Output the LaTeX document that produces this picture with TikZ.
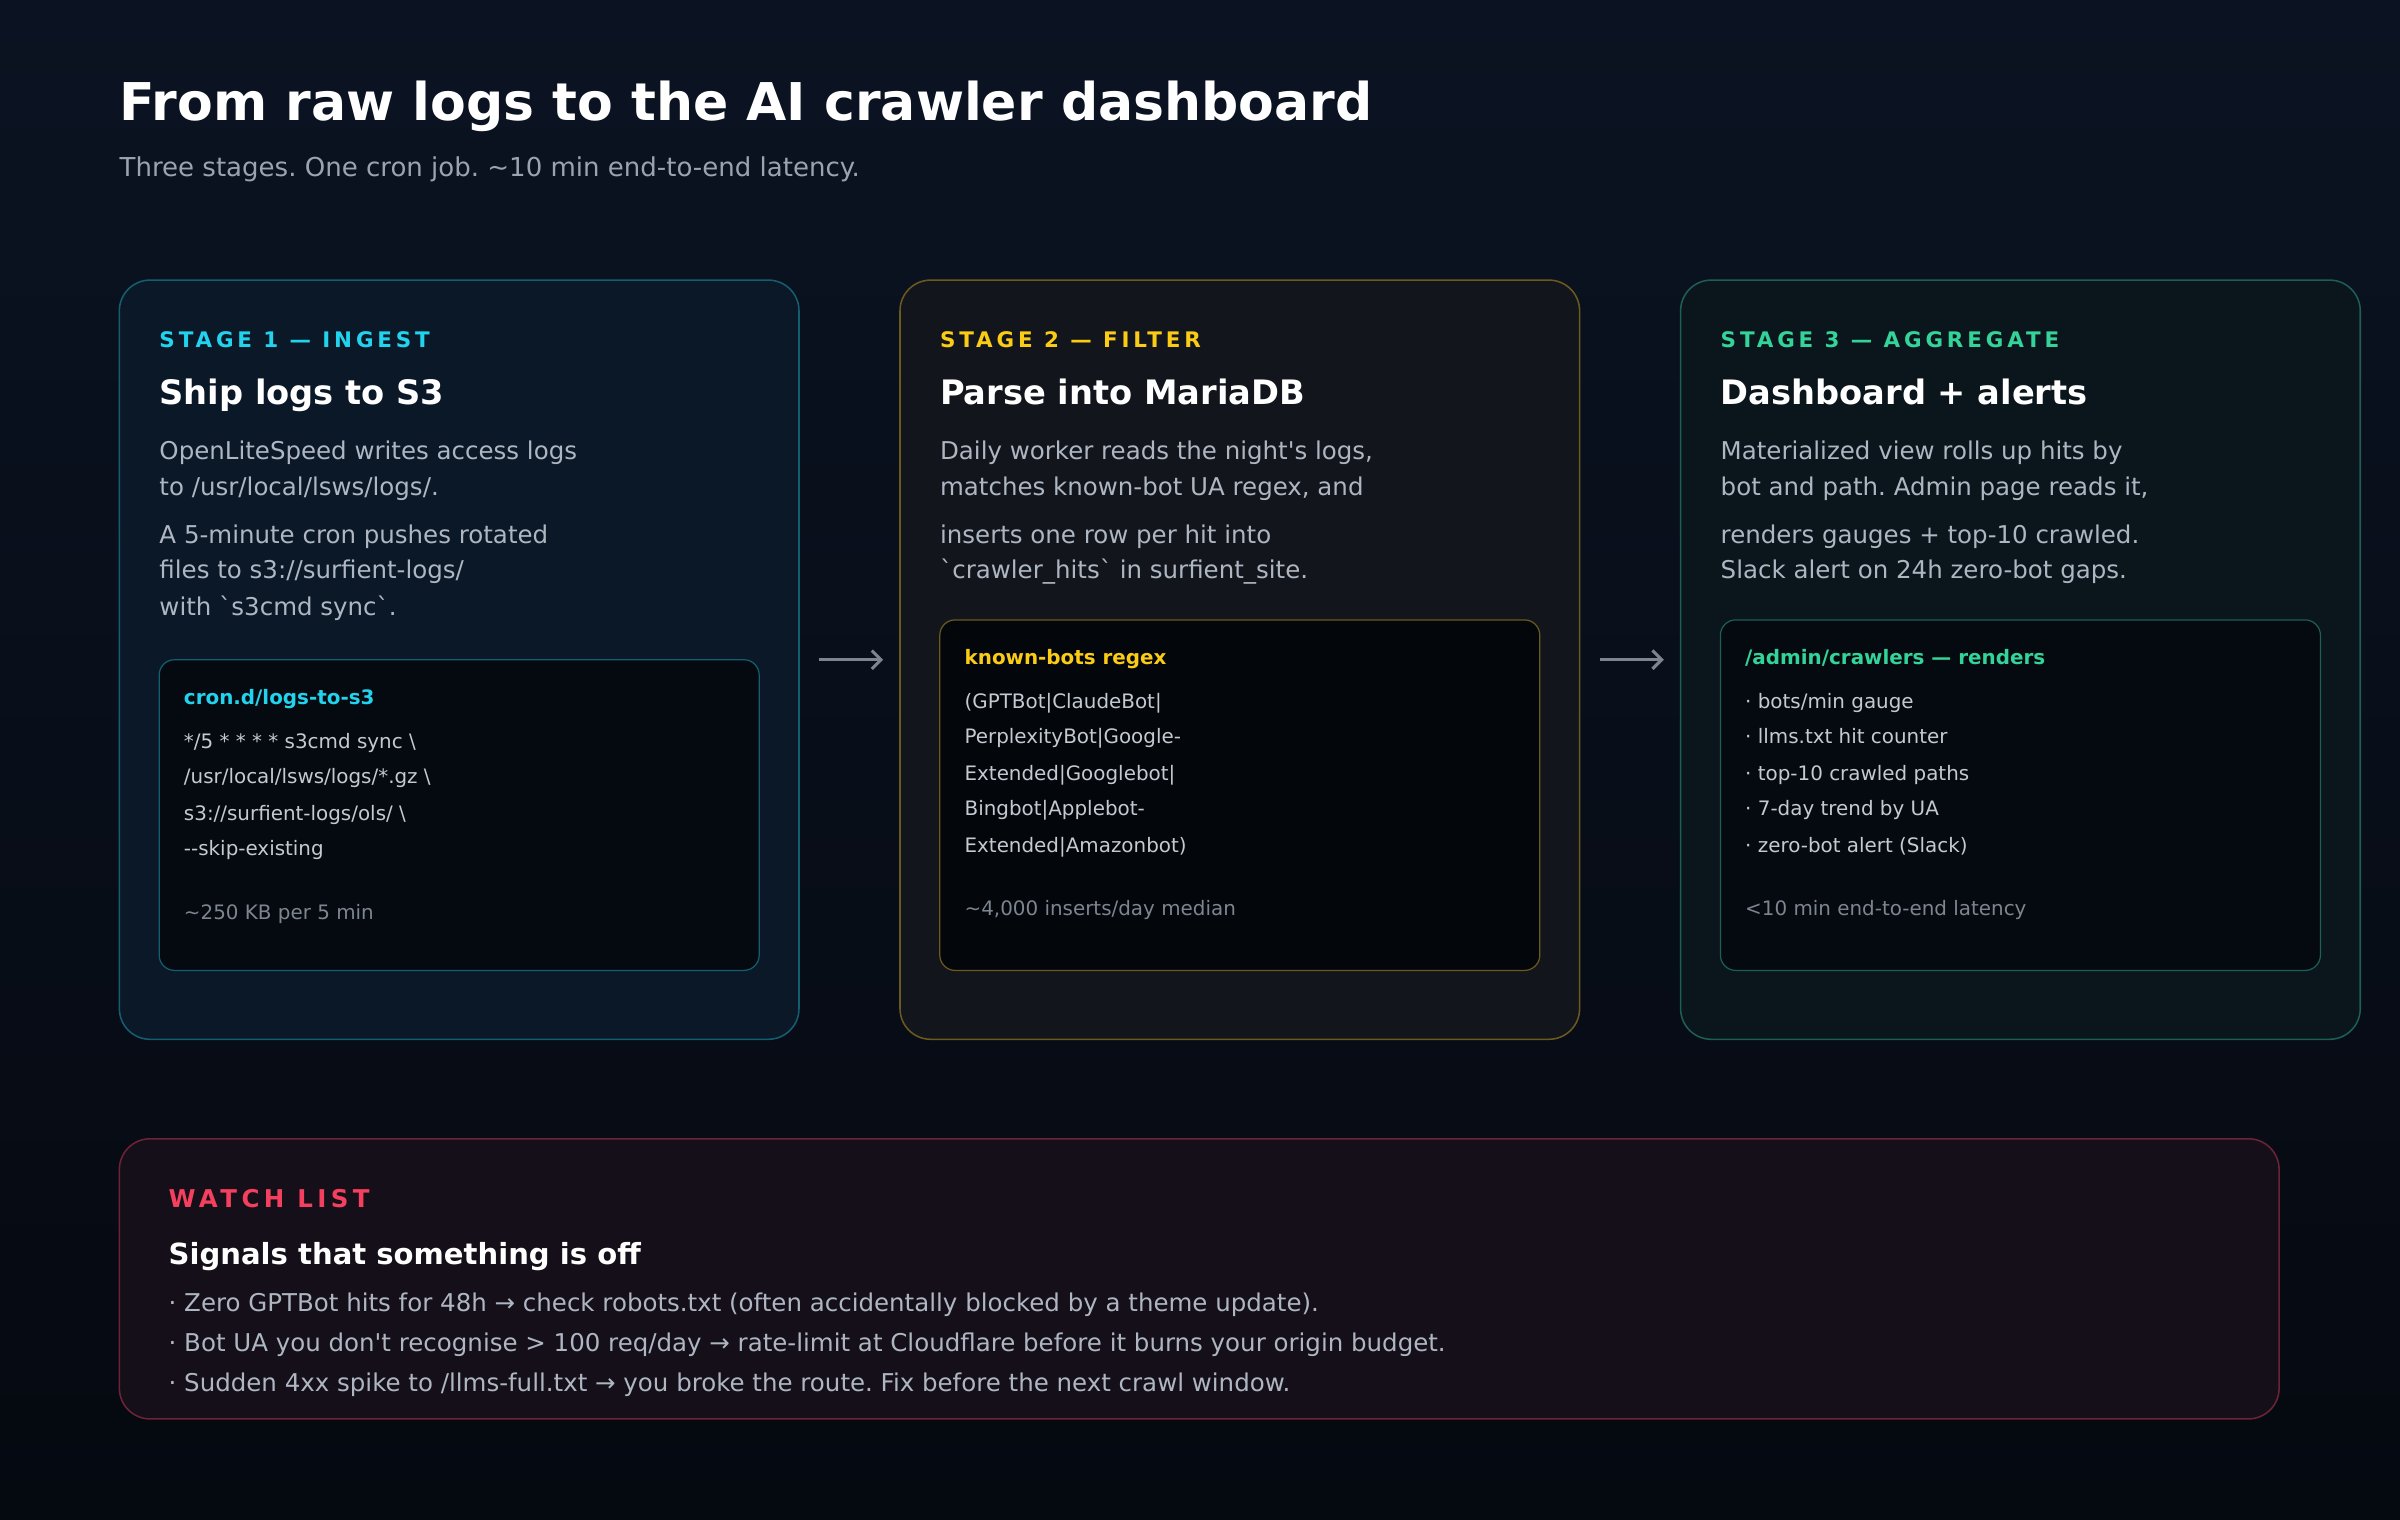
\documentclass[tikz,border=0pt]{standalone}
\usepackage{fontspec}
\setmainfont{DejaVu Sans}[Ligatures=TeXOff]
\newfontfamily\spc[LetterSpace=18,Ligatures=TeXOff]{DejaVu Sans}
\usetikzlibrary{arrows.meta}
\frenchspacing
\newcommand{\tl}{\symbol{126}}
\newcommand{\ap}{\symbol{39}}
\newcommand{\bq}{\symbol{96}}
\definecolor{bgtop}{HTML}{0B1322}
\definecolor{bgbot}{HTML}{050910}
\definecolor{sub}{HTML}{9CA3AF}
\definecolor{body}{HTML}{AEB6C2}
\definecolor{code}{HTML}{C4CAD2}
\definecolor{foot}{HTML}{7D8590}
\definecolor{cyanc}{HTML}{22D3EE}
\definecolor{cyanb}{HTML}{155E70}
\definecolor{cyanf}{HTML}{0A1828}
\definecolor{yelc}{HTML}{FACC15}
\definecolor{yelb}{HTML}{6B5A1E}
\definecolor{yelf}{HTML}{12161C}
\definecolor{grnc}{HTML}{34D399}
\definecolor{grnb}{HTML}{1D5E55}
\definecolor{grnf}{HTML}{0A151C}
\definecolor{redc}{HTML}{F43F5E}
\definecolor{redb}{HTML}{6E2238}
\definecolor{redf}{HTML}{140F19}
\definecolor{innerf}{HTML}{050A10}
\tikzset{
 t/.style={anchor=base west,inner sep=0pt},
 lab/.style={t,font=\spc\bfseries\fontsize{14}{16}\selectfont},
 head/.style={t,text=white,font=\bfseries\fontsize{22}{26}\selectfont},
 bod/.style={t,text=body,font=\fontsize{16}{19}\selectfont},
 cod/.style={t,text=code,font=\fontsize{13}{15}\selectfont},
 ctitle/.style={t,font=\bfseries\fontsize{13}{15}\selectfont},
 ft/.style={t,text=foot,font=\fontsize{13}{15}\selectfont},
 stage/.style={rounded corners=20pt,line width=1pt},
 inner/.style={rounded corners=10pt,line width=0.8pt},
 arr/.style={draw=foot,line width=2pt,-{Straight Barb[length=6pt,width=12pt]}},
}
\begin{document}
\begin{tikzpicture}[x=1pt,y=-1pt]
\shade[top color=bgtop,bottom color=bgbot] (0,0) rectangle (1568,993);
\useasboundingbox (0,0) rectangle (1568,993);
\node[t,text=white,font=\bfseries\fontsize{34}{40}\selectfont] (title) at (78,79) {From raw logs to the AI crawler dashboard};
\node[t,text=sub,font=\fontsize{17}{20}\selectfont] (subtitle) at (78,115) {Three stages. One cron job. \tl10 min end-to-end latency.};
% stage 1
\draw[stage,draw=cyanb,fill=cyanf] (78,183) rectangle (522,679);
\node[lab,text=cyanc] (l1) at (104,227) {STAGE 1 — INGEST};
\node[head] (h1) at (104,264) {Ship logs to S3};
\node[bod] (b11) at (104,300) {OpenLiteSpeed writes access logs};
\node[bod] (b12) at (104,324) {to /usr/local/lsws/logs/.};
\node[bod] (b13) at (104,355) {A 5-minute cron pushes rotated};
\node[bod] (b14) at (104,378) {files to s3://surfient-logs/};
\node[bod] (b15) at (104,402) {with \bq s3cmd sync\bq.};
\draw[inner,draw=cyanb,fill=innerf] (104,431) rectangle (496,634);
\node[ctitle,text=cyanc] (c1) at (120,460) {cron.d/logs-to-s3};
\node[cod] (c11) at (120,489) {*/5 * * * * s3cmd sync \textbackslash};
\node[cod] (c12) at (120,512) {/usr/local/lsws/logs/*.gz \textbackslash};
\node[cod] (c13) at (120,536) {s3://surfient-logs/ols/ \textbackslash};
\node[cod] (c14) at (120,559) {-{}-skip-existing};
\node[ft] (f1) at (120,601) {\tl250 KB per 5 min};
% stage 2
\draw[stage,draw=yelb,fill=yelf] (588,183) rectangle (1032,679);
\node[lab,text=yelc] (l2) at (614,227) {STAGE 2 — FILTER};
\node[head] (h2) at (614,264) {Parse into MariaDB};
\node[bod] (b21) at (614,300) {Daily worker reads the night\ap s logs,};
\node[bod] (b22) at (614,324) {matches known-bot UA regex, and};
\node[bod] (b23) at (614,355) {inserts one row per hit into};
\node[bod] (b24) at (614,378) {\bq crawler\_hits\bq{} in surfient\_site.};
\draw[inner,draw=yelb,fill=innerf!60!black] (614,405) rectangle (1006,634);
\node[ctitle,text=yelc] (c2) at (630,434) {known-bots regex};
\node[cod] (c21) at (630,463) {(GPTBot|ClaudeBot|};
\node[cod] (c22) at (630,486) {PerplexityBot|Google-};
\node[cod] (c23) at (630,510) {Extended|Googlebot|};
\node[cod] (c24) at (630,533) {Bingbot|Applebot-};
\node[cod] (c25) at (630,557) {Extended|Amazonbot)};
\node[ft] (f2) at (630,598) {\tl4,000 inserts/day median};
% stage 3
\draw[stage,draw=grnb,fill=grnf] (1098,183) rectangle (1542,679);
\node[lab,text=grnc] (l3) at (1124,227) {STAGE 3 — AGGREGATE};
\node[head] (h3) at (1124,264) {Dashboard + alerts};
\node[bod] (b31) at (1124,300) {Materialized view rolls up hits by};
\node[bod] (b32) at (1124,324) {bot and path. Admin page reads it,};
\node[bod] (b33) at (1124,355) {renders gauges + top-10 crawled.};
\node[bod] (b34) at (1124,378) {Slack alert on 24h zero-bot gaps.};
\draw[inner,draw=grnb,fill=innerf] (1124,405) rectangle (1516,634);
\node[ctitle,text=grnc] (c3) at (1140,434) {/admin/crawlers — renders};
\node[cod] (c31) at (1140,463) {· bots/min gauge};
\node[cod] (c32) at (1140,486) {· llms.txt hit counter};
\node[cod] (c33) at (1140,510) {· top-10 crawled paths};
\node[cod] (c34) at (1140,533) {· 7-day trend by UA};
\node[cod] (c35) at (1140,557) {· zero-bot alert (Slack)};
\node[ft] (f3) at (1140,598) {<10 min end-to-end latency};
% arrows
\coordinate (a1s) at (535,431); \coordinate (a1e) at (577,431);
\coordinate (a2s) at (1045,431); \coordinate (a2e) at (1087,431);
\draw[arr] (a1s) -- (a1e);
\draw[arr] (a2s) -- (a2e);
% watch list
\draw[stage,draw=redb,fill=redf] (78,744) rectangle (1489,927);
\node[lab,text=redc,font=\spc\bfseries\fontsize{16}{18}\selectfont] (lw) at (110,789) {WATCH LIST};
\node[t,text=white,font=\bfseries\fontsize{19}{22}\selectfont] (hw) at (110,826) {Signals that something is off};
\node[bod] (w1) at (110,857) {· Zero GPTBot hits for 48h → check robots.txt (often accidentally blocked by a theme update).};
\node[bod] (w2) at (110,883) {· Bot UA you don\ap t recognise > 100 req/day → rate-limit at Cloudflare before it burns your origin budget.};
\node[bod] (w3) at (110,909) {· Sudden 4xx spike to /llms-full.txt → you broke the route. Fix before the next crawl window.};
\end{tikzpicture}
\end{document}
